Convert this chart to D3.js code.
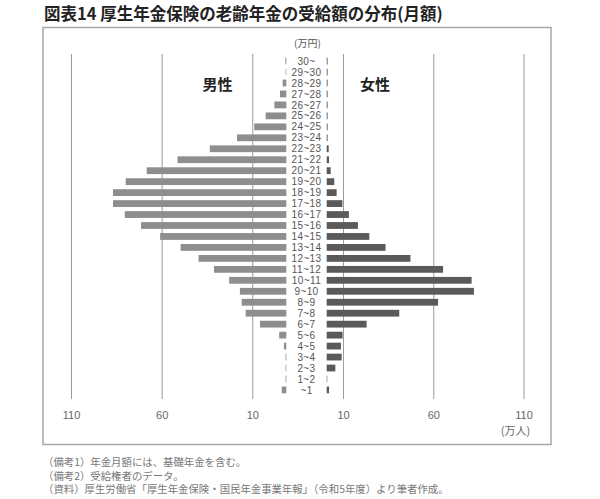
<!DOCTYPE html>
<html lang="ja">
<head>
    <meta charset="UTF-8">
    <title>厚生年金保険の老齢年金の受給額の分布</title>
    <script src="https://d3js.org/d3.v7.min.js"></script>
    <style>
        body {
            margin: 0;
            background: #fff;
            font-family: "Noto Sans CJK JP", "Noto Sans", sans-serif;
        }
        .grid line {
            stroke: #9a9a9a;
            stroke-width: 1px;
        }
        .grid text {
            fill: #666;
            font-size: 11px;
        }
        .cat {
            fill: #555;
            font-size: 10px;
            font-family: "Liberation Sans", Arial, sans-serif;
            letter-spacing: 0.4px;
        }
        .note {
            fill: #777;
            font-size: 10.4px;
        }
    </style>
</head>
<body>
    <div id="chart"></div>

    <script>
        // Monthly benefit bands (万円), top to bottom
        const categories = ["30~", "29~30", "28~29", "27~28", "26~27", "25~26", "24~25", "23~24",
            "22~23", "21~22", "20~21", "19~20", "18~19", "17~18", "16~17", "15~16", "14~15",
            "13~14", "12~13", "11~12", "10~11", "9~10", "8~9", "7~8", "6~7", "5~6", "4~5",
            "3~4", "2~3", "1~2", "~1"];

        // Recipients (万人)
        const male = [0.5, 0.3, 2.0, 3.5, 6.6, 11.4, 17.7, 27.2,
            42.2, 60.0, 77.0, 88.6, 95.6, 95.6, 89.1, 80.1, 69.6,
            58.3, 48.4, 39.9, 31.5, 25.6, 24.6, 22.4, 14.5, 3.9, 1.3,
            0.4, 0.4, 0.4, 2.5];
        const female = [0.5, 0.5, 0.5, 0.5, 0.5, 0.5, 0.5, 0.5,
            1.1, 1.3, 2.2, 4.2, 5.5, 8.7, 12.3, 17.3, 23.6,
            32.6, 46.4, 64.5, 80.3, 81.6, 61.7, 40.2, 22.1, 8.8, 7.9,
            8.3, 4.8, 0.3, 1.3];

        const gridTicks = [10, 60, 110];

        const notes = [
            "（備考1）年金月額には、基礎年金を含む。",
            "（備考2）受給権者のデータ。",
            "（資料）厚生労働省「厚生年金保険・国民年金事業年報」（令和5年度）より筆者作成。"
        ];

        const width = 600, height = 499;

        const svg = d3.select("#chart")
            .append("svg")
            .attr("width", width)
            .attr("height", height);

        // Title
        svg.append("text")
            .attr("x", 44)
            .attr("y", 19.5)
            .style("font-size", "16.5px")
            .style("font-weight", "bold")
            .style("fill", "#222")
            .text("図表14 厚生年金保険の老齢年金の受給額の分布(月額)");

        // Outer frame
        svg.append("rect")
            .attr("x", 43)
            .attr("y", 27.5)
            .attr("width", 508)
            .attr("height", 417)
            .attr("fill", "none")
            .attr("stroke", "#a8a8a8")
            .attr("stroke-width", 1.5);

        // Scales
        const y = d3.scaleBand()
            .domain(categories)
            .range([53.5, 397.5])
            .padding(0.38);

        // gridline scales (left side runs leftwards)
        const gridL = d3.scaleLinear().domain([0, 110]).range([270.4, 71]);
        const gridR = d3.scaleLinear().domain([0, 110]).range([325, 523.5]);

        // bar scales, bars start beside the band labels
        const xM = d3.scaleLinear().domain([0, 110]).range([286.3, 86.9]);
        const xF = d3.scaleLinear().domain([0, 110]).range([326.7, 525.2]);

        const gridBottom = 399;
        const gridTop = 54;

        // Gridlines + tick labels
        [gridL, gridR].forEach(s => {
            const g = svg.append("g")
                .attr("class", "grid")
                .attr("transform", `translate(0,${gridBottom})`)
                .call(d3.axisBottom(s)
                    .tickValues(gridTicks)
                    .tickSize(-(gridBottom - gridTop))
                    .tickPadding(12));
            g.select(".domain").remove();
            g.selectAll("text").style("font-family", "inherit");
        });

        svg.append("text")
            .attr("class", "grid")
            .attr("x", gridR(110) - 8)
            .attr("y", 435)
            .attr("text-anchor", "middle")
            .style("fill", "#666")
            .style("font-size", "11px")
            .text("(万人)");

        // Male bars
        svg.append("g")
            .selectAll("rect")
            .data(male)
            .join("rect")
            .attr("x", d => xM(d))
            .attr("y", (d, i) => y(categories[i]))
            .attr("width", d => xM(0) - xM(d))
            .attr("height", y.bandwidth())
            .attr("fill", "#8e8e8e");

        // Female bars
        svg.append("g")
            .selectAll("rect")
            .data(female)
            .join("rect")
            .attr("x", xF(0))
            .attr("y", (d, i) => y(categories[i]))
            .attr("width", d => xF(d) - xF(0))
            .attr("height", y.bandwidth())
            .attr("fill", "#5a5a5a");

        // Band labels in the middle
        const midX = (xM(0) + xF(0)) / 2;
        svg.append("g")
            .selectAll("text")
            .data(categories)
            .join("text")
            .attr("class", "cat")
            .attr("x", midX)
            .attr("y", d => y(d) + y.bandwidth() / 2)
            .attr("dy", "0.36em")
            .attr("text-anchor", "middle")
            .text(d => d);

        svg.append("text")
            .attr("x", midX + 1)
            .attr("y", 47)
            .attr("text-anchor", "middle")
            .style("fill", "#555")
            .style("font-size", "10px")
            .text("(万円)");

        // Side labels
        svg.append("text")
            .attr("x", 217.5)
            .attr("y", 89.5)
            .attr("text-anchor", "middle")
            .style("font-size", "15px")
            .style("font-weight", "bold")
            .style("fill", "#222")
            .text("男性");

        svg.append("text")
            .attr("x", 375)
            .attr("y", 89.5)
            .attr("text-anchor", "middle")
            .style("font-size", "15px")
            .style("font-weight", "bold")
            .style("fill", "#222")
            .text("女性");

        // Notes under the frame
        svg.append("g")
            .selectAll("text")
            .data(notes)
            .join("text")
            .attr("class", "note")
            .attr("x", 43)
            .attr("y", (d, i) => 466 + i * 13.5)
            .text(d => d);
    </script>
</body>
</html>
